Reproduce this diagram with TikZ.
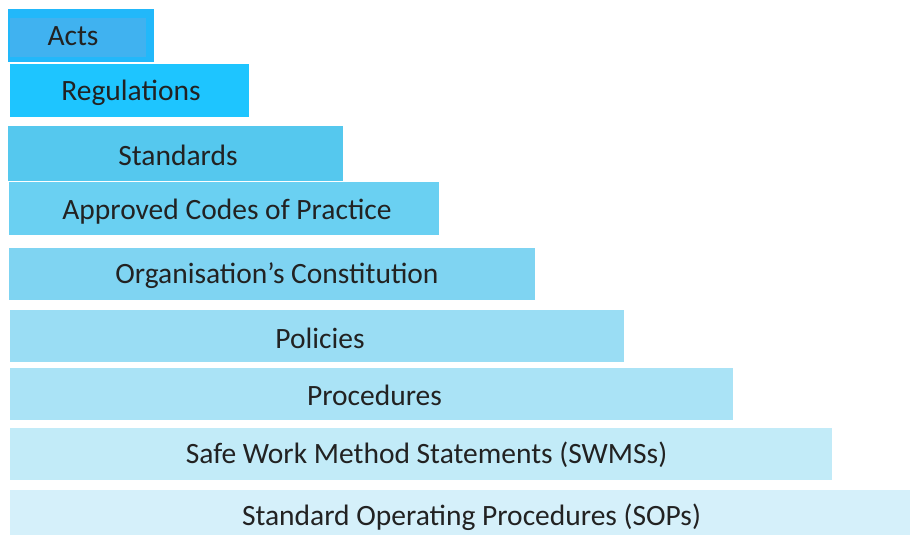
\documentclass[tikz,border=0pt]{standalone}
\usepackage{fontspec}
\setmainfont{Carlito}
\definecolor{cActsOut}{HTML}{22B8FA}
\definecolor{cActs}{HTML}{40B2F0}
\definecolor{cReg}{HTML}{1EC5FF}
\definecolor{cStd}{HTML}{55C8EE}
\definecolor{cAcp}{HTML}{6AD0F2}
\definecolor{cOrg}{HTML}{7FD4F2}
\definecolor{cPol}{HTML}{9ADDF4}
\definecolor{cPro}{HTML}{AAE3F6}
\definecolor{cSwm}{HTML}{C2EBF8}
\definecolor{cSop}{HTML}{D5F0FA}
\definecolor{txt}{HTML}{222222}
\begin{document}
\begin{tikzpicture}[x=1pt,y=-1pt,
  tier/.style={draw=none, inner sep=0pt, outer sep=0pt, anchor=north west},
  lbl/.style={inner sep=0pt, text=txt, font=\fontsize{29.5}{34}\selectfont}]
\path[fill=white] (0,0) rectangle (910,535);
\useasboundingbox (0,0) rectangle (910,535);
% boxes
\node[tier, fill=cActsOut, minimum width=146pt, minimum height=53pt] (actsbox) at (8,9) {};
\node[tier, fill=cActs, minimum width=136pt, minimum height=39pt] (actsinner) at (10,18) {};
\node[tier, fill=cReg, minimum width=239pt, minimum height=53pt] (regbox) at (10,64) {};
\node[tier, fill=cStd, minimum width=335pt, minimum height=55pt] (stdbox) at (8,126) {};
\node[tier, fill=cAcp, minimum width=430pt, minimum height=53pt] (acpbox) at (9,182) {};
\node[tier, fill=cOrg, minimum width=526pt, minimum height=52pt] (orgbox) at (9,248) {};
\node[tier, fill=cPol, minimum width=614pt, minimum height=52pt] (polbox) at (10,310) {};
\node[tier, fill=cPro, minimum width=723pt, minimum height=52pt] (probox) at (10,368) {};
\node[tier, fill=cSwm, minimum width=822pt, minimum height=52pt] (swmbox) at (10,428) {};
\node[tier, fill=cSop, minimum width=900pt, minimum height=45pt] (sopbox) at (10,490) {};
% labels
\node[lbl] (acts) at (73,36) {Acts};
\node[lbl] (reg) at (131,93) {Regulations};
\node[lbl] (std) at (178,155) {Standards};
\node[lbl] (acp) at (227,212) {Approved Codes of Practice};
\node[lbl] (org) at (277,276) {Organisation’s Constitution};
\node[lbl] (pol) at (320,338) {Policies};
\node[lbl] (pro) at (374.5,395) {Procedures};
\node[lbl] (swm) at (426.5,455) {Safe Work Method Statements (SWMSs)};
\node[lbl] (sop) at (471.5,517) {Standard Operating Procedures (SOPs)};
\end{tikzpicture}
\end{document}
